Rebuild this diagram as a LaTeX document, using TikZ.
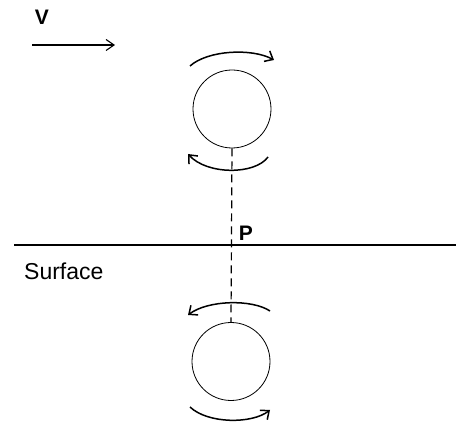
\documentclass[tikz,border=0pt]{standalone}
\usepackage{fontspec}
\setmainfont{Liberation Sans}
\usetikzlibrary{arrows.meta}
\begin{document}
\begin{tikzpicture}[x=1pt,y=-1pt,
  wheel/.style={circle,draw,line width=0.8pt,minimum size=78pt,inner sep=0pt},
  spin/.style={line width=1.5pt,-{Straight Barb[length=7pt,width=12pt,line width=1.5pt]}},
  lbl/.style={inner sep=0pt,font=\bfseries\fontsize{21}{24}\selectfont},
  txt/.style={inner sep=0pt,font=\fontsize{23}{26}\selectfont,anchor=west}]
\useasboundingbox (0,0) rectangle (456,425);
\node[wheel] (c1) at (232,109) {};
\node[wheel] (c2) at (231,361.5) {};
\draw[line width=1.2pt,dash pattern=on 8pt off 5pt] (c1.south) -- (c2.north);
\coordinate (sl) at (14,245);
\coordinate (sr) at (456,245);
\draw[line width=1.3pt] (sl) -- (sr);
\node[txt] (surf) at (24,271) {Surface};
\node[lbl] (v) at (42,17) {V};
\node[lbl] (p) at (246,233) {P};
\coordinate (va) at (32,45);
\coordinate (vb) at (115,45);
\draw[line width=1.1pt,-{Straight Barb[length=8pt,width=11pt,line width=1.1pt]}] (va) -- (vb);
% spin arcs
\coordinate (a1s) at (190,66);
\coordinate (a1e) at (274,60);
\draw[spin] (a1s) .. controls (208,50) and (252,48) .. (a1e);
\coordinate (a2s) at (268,157);
\coordinate (a2e) at (188,154);
\draw[spin] (a2s) .. controls (255,175) and (207,175) .. (a2e);
\coordinate (a3s) at (270,311);
\coordinate (a3e) at (188,315);
\draw[spin] (a3s) .. controls (252,299) and (208,300) .. (a3e);
\coordinate (a4s) at (190,407);
\coordinate (a4e) at (270,410);
\draw[spin] (a4s) .. controls (208,424) and (252,424) .. (a4e);
\end{tikzpicture}
\end{document}
